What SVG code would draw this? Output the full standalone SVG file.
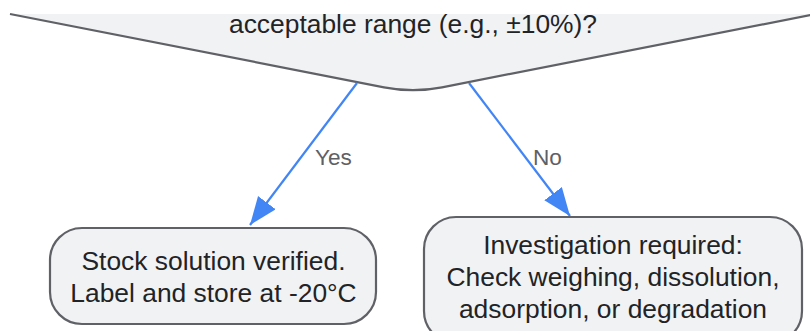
<svg xmlns="http://www.w3.org/2000/svg" width="810" height="331" viewBox="0 0 810 331">
  <defs>
    <style>
      .node { fill: #f1f2f4; stroke: #606166; stroke-width: 2.2; }
      .txt { font-family: "Liberation Sans", Arial, sans-serif; font-size: 26.4px; fill: #222326; text-anchor: middle; }
      .edge { fill: none; stroke: #4285f4; stroke-width: 2.2; }
      .lbl { font-family: "Liberation Sans", Arial, sans-serif; font-size: 22.6px; fill: #5f6066; text-anchor: middle; }
    </style>
    <marker id="arrow" markerUnits="userSpaceOnUse" markerWidth="30" markerHeight="24" refX="28" refY="11" orient="auto">
      <path d="M0,0 L28,11 L0,22 Z" fill="#4285f4"/>
    </marker>
  </defs>
  <rect x="0" y="0" width="810" height="331" fill="#ffffff"/>

  <g id="decision">
    <path class="node" d="M 10 14 L 384 87.3 Q 413 93 442 87.3 L 816 14"/>
    <rect x="0" y="0" width="810" height="13" fill="#ffffff"/>
    <text class="txt" x="413" y="33">acceptable range (e.g., ±10%)?</text>
  </g>

  <g id="edges">
    <path class="edge" d="M 357 83 L 250 225" marker-end="url(#arrow)"/>
    <path class="edge" d="M 469 83 L 570 216" marker-end="url(#arrow)"/>
    <text class="lbl" x="333.5" y="165">Yes</text>
    <text class="lbl" x="547.5" y="165">No</text>
  </g>

  <g id="verified">
    <rect class="node" x="50" y="228" width="326" height="96" rx="32" ry="32"/>
    <text class="txt" x="213.5" y="270">Stock solution verified.</text>
    <text class="txt" x="213.5" y="301.7">Label and store at -20°C</text>
  </g>

  <g id="investigation">
    <rect class="node" x="424" y="217" width="378" height="126" rx="32" ry="32"/>
    <text class="txt" x="613" y="254.3">Investigation required:</text>
    <text class="txt" x="613" y="286">Check weighing, dissolution,</text>
    <text class="txt" x="613" y="317.6">adsorption, or degradation</text>
  </g>
</svg>
